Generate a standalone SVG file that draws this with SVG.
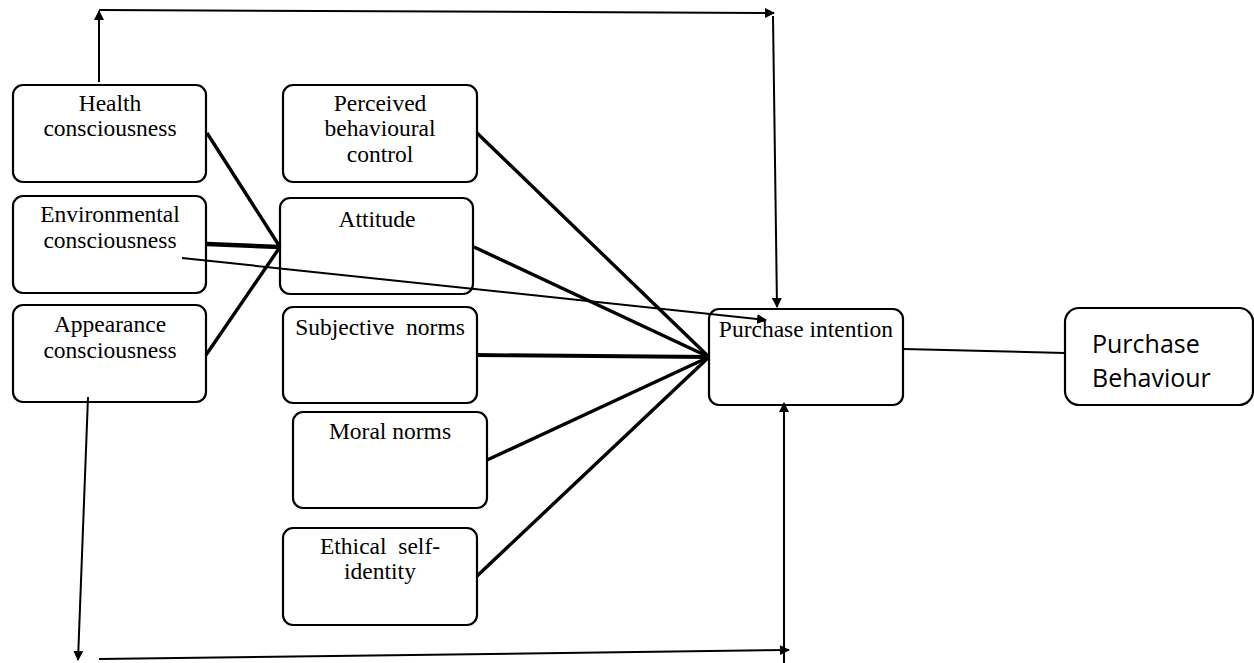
<svg xmlns="http://www.w3.org/2000/svg" width="1254" height="663" viewBox="0 0 1254 663">
<defs>
<marker id="ah" viewBox="0 0 10 10" refX="9" refY="5" markerWidth="5" markerHeight="5" orient="auto" markerUnits="strokeWidth">
<path d="M0,0 L10,5 L0,10 z" fill="#000"/>
</marker>
<style>
.box{fill:#fff;stroke:#000;stroke-width:2.2}
.t{font-family:"Liberation Serif","Times New Roman",serif;font-size:23.5px;fill:#000;text-anchor:middle}
.s{font-family:"Open Sans","Noto Sans",sans-serif;font-size:25px;fill:#000}
.thick{stroke:#000;stroke-width:3.4;fill:none}
.thin{stroke:#000;stroke-width:2;fill:none}
.arr{stroke:#000;stroke-width:2;fill:none;marker-end:url(#ah)}
</style>
</defs>
<rect width="1254" height="663" fill="#fff"/>
<g id="health">
<rect class="box" x="13" y="85" width="193" height="97" rx="10"/>
<text class="t" x="110" y="111">Health</text>
<text class="t" x="110" y="136">consciousness</text>
</g>
<g id="environmental">
<rect class="box" x="13" y="196" width="193" height="97" rx="10"/>
<text class="t" x="110" y="222">Environmental</text>
<text class="t" x="110" y="248">consciousness</text>
</g>
<g id="appearance">
<rect class="box" x="13" y="305" width="193" height="97" rx="10"/>
<text class="t" x="110" y="332">Appearance</text>
<text class="t" x="110" y="358">consciousness</text>
</g>
<g id="pbc">
<rect class="box" x="283" y="85" width="194" height="97" rx="10"/>
<text class="t" x="380" y="111">Perceived</text>
<text class="t" x="380" y="136">behavioural</text>
<text class="t" x="380" y="162">control</text>
</g>
<g id="attitude">
<rect class="box" x="280" y="198" width="193" height="96" rx="10"/>
<text class="t" x="377" y="227">Attitude</text>
</g>
<g id="subjective">
<rect class="box" x="283" y="307" width="194" height="96" rx="10"/>
<text class="t" x="380" y="335" xml:space="preserve">Subjective  norms</text>
</g>
<g id="moral">
<rect class="box" x="293" y="412" width="194" height="96" rx="10"/>
<text class="t" x="390" y="439">Moral norms</text>
</g>
<g id="ethical">
<rect class="box" x="283" y="528" width="194" height="97" rx="10"/>
<text class="t" x="380" y="554" xml:space="preserve">Ethical  self-</text>
<text class="t" x="380" y="579">identity</text>
</g>
<g id="intention">
<rect class="box" x="709" y="309" width="194" height="96" rx="10"/>
<text class="t" x="806" y="337">Purchase intention</text>
</g>
<g id="behaviour">
<rect class="box" x="1065" y="308" width="188" height="97" rx="14"/>
<text class="s" x="1092" y="353">Purchase</text>
<text class="s" x="1092" y="387">Behaviour</text>
</g>
<g id="connectors">
<line class="thick" x1="207" y1="133" x2="280" y2="247"/>
<line class="thick" x1="207" y1="244" x2="280" y2="247" style="stroke-width:4.5"/>
<line class="thick" x1="206" y1="355" x2="280" y2="247"/>
<line class="thick" x1="477" y1="133" x2="709" y2="357"/>
<line class="thick" x1="474" y1="247" x2="709" y2="357"/>
<line class="thick" x1="477" y1="355" x2="709" y2="357" style="stroke-width:3.8"/>
<line class="thick" x1="487" y1="460" x2="709" y2="357"/>
<line class="thick" x1="477" y1="576" x2="709" y2="357"/>
<line class="arr" x1="182" y1="258" x2="766" y2="320"/>
<line class="thin" x1="903" y1="349" x2="1065" y2="353"/>
<line class="arr" x1="99" y1="82" x2="99" y2="11"/>
<line class="arr" x1="99" y1="10" x2="774" y2="13"/>
<line class="arr" x1="773" y1="16" x2="777" y2="307"/>
<line class="arr" x1="88" y1="397" x2="78" y2="660"/>
<line class="arr" x1="99" y1="659" x2="789" y2="650"/>
<line class="arr" x1="784" y1="663" x2="784" y2="403"/>
</g>
</svg>
